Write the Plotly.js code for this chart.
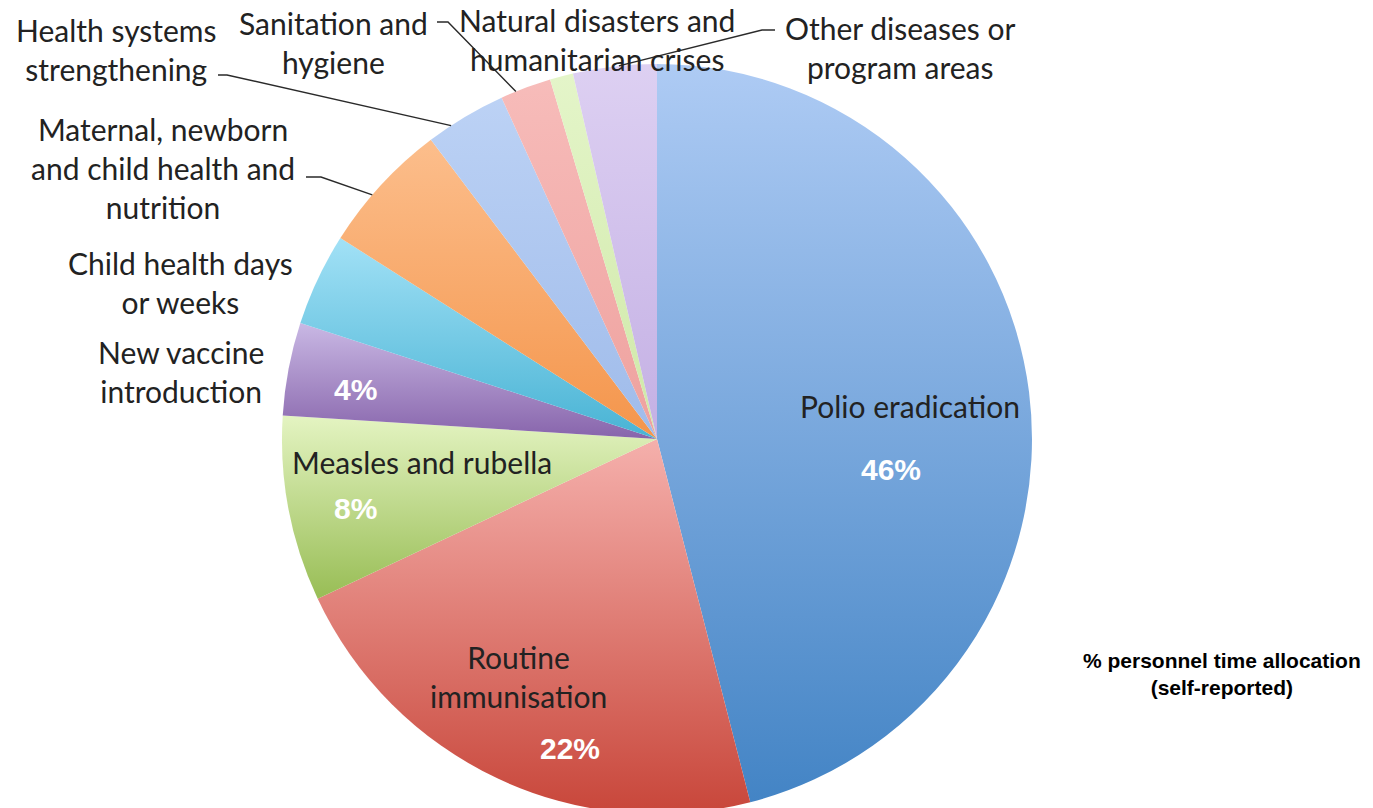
<!DOCTYPE html>
<html>
<head>
<meta charset="utf-8">
<script src="https://cdn.plot.ly/plotly-3.0.1.min.js"></script>
<style>
  html, body { margin: 0; padding: 0; background: #ffffff; overflow: hidden; }
  #chart { width: 1373px; height: 820px; }
</style>
</head>
<body>
<div id="chart"></div>
<script>
// ---- data ----
const categories = [
  'Polio eradication',
  'Routine immunisation',
  'Measles and rubella',
  'New vaccine introduction',
  'Child health days or weeks',
  'Maternal, newborn and child health and nutrition',
  'Health systems strengthening',
  'Sanitation and hygiene',
  'Natural disasters and humanitarian crises',
  'Other diseases or program areas'
];
const values = [46, 22, 8, 4, 4, 5.7, 3.5, 2.2, 1, 3.6];
const percentLabels = ['46%', '22%', '8%', '4%', '', '', '', '', '', ''];
const displayLabels = [
  'Polio eradication',
  'Routine<br>immunisation',
  'Measles and rubella',
  'New vaccine<br>introduction',
  'Child health days<br>or weeks',
  'Maternal, newborn<br>and child health and<br>nutrition',
  'Health systems<br>strengthening',
  'Sanitation and<br>hygiene',
  'Natural disasters and<br>humanitarian crises',
  'Other diseases or<br>program areas'
];
const chartTitle = '% personnel time allocation<br>(self-reported)';

// ---- styles ----
const baseColors = ['#7aa7de', '#e27d74', '#c4dd90', '#a88ac8', '#72c9e6', '#f8ab6c', '#b0c9f0', '#f4b2af', '#dff1c2', '#d5c6ed'];
const gradStops = [
  ['#aecbf4', '#4384c5'],
  ['#f5b0ac', '#c8463a'],
  ['#e4f4c2', '#98bd55'],
  ['#c9b8e4', '#8764ab'],
  ['#a2e1f6', '#48b3d4'],
  ['#fcbe8c', '#f4954b'],
  ['#bcd2f5', '#9fbbea'],
  ['#f7bcba', '#eea19e'],
  ['#e4f5c9', '#cfe8a8'],
  ['#ddd0f2', '#c4b0e4']
];

const W = 1373, H = 820;
const CX = 657, CY = 439, R = 375;

// label positions (px) for name labels
const namePos = [
  [910, 406], [518, 676], [422, 462], [181, 372], [180, 282],
  [163, 168], [117, 49], [333, 42], [597, 39], [900, 47]
];
// percent label positions (px)
const pctPos = [[891, 470], [570, 748], [355, 508], [355, 389]];

// leader lines: label-side anchor points (px) for slices with outside labels
const leaders = {
  6: [[218, 75], [227, 75]],
  5: [[306, 177], [321, 177]],
  7: [[437, 22], [448, 22]],
  9: [[775, 30], [762, 30]]
};

const px = x => x / W;
const py = y => 1 - y / H;

const total = values.reduce((a, b) => a + b, 0);
const cum = [];
values.reduce((acc, v, i) => { cum[i] = acc; return acc + v; }, 0);
function rimPoint(i, frac, rf) {
  const a = (cum[i] + values[i] * frac) / total * 2 * Math.PI;
  return [CX + R * rf * Math.sin(a), CY - R * rf * Math.cos(a)];
}

const annotations = [];
categories.forEach((c, i) => {
  annotations.push({
    x: px(namePos[i][0]), y: py(namePos[i][1]), xref: 'paper', yref: 'paper',
    text: displayLabels[i], showarrow: false, xanchor: 'center', yanchor: 'middle',
    align: 'center',
    font: { family: 'Lato, "Open Sans", sans-serif', size: 30, color: '#222222' }
  });
});
pctPos.forEach((p, i) => {
  annotations.push({
    x: px(p[0]), y: py(p[1]), xref: 'paper', yref: 'paper',
    text: '<b>' + percentLabels[i] + '</b>', showarrow: false,
    xanchor: 'center', yanchor: 'middle',
    font: { family: '"Liberation Sans", Arial, sans-serif', size: 30, color: '#ffffff' }
  });
});
annotations.push({
  x: px(1222), y: py(674), xref: 'paper', yref: 'paper',
  text: '<b>' + chartTitle + '</b>', showarrow: false, xanchor: 'center', yanchor: 'middle',
  align: 'center',
  font: { family: '"Liberation Sans", Arial, sans-serif', size: 21, color: '#000000' }
});

const shapes = [];
const fracs = { 6: 0.3, 5: 0.4, 7: 0.3, 9: 0.55 };
Object.keys(leaders).forEach(k => {
  const i = +k;
  const pts = leaders[k].slice();
  pts.push(rimPoint(i, fracs[i], 1.0));
  const d = pts.map((p, j) => (j ? 'L' : 'M') + px(p[0]).toFixed(5) + ',' + py(p[1]).toFixed(5)).join(' ');
  shapes.push({ type: 'path', xref: 'paper', yref: 'paper', path: d,
    line: { color: '#2a2a2a', width: 1.4 } });
});

const trace = {
  type: 'pie',
  labels: categories,
  values: values,
  sort: false,
  direction: 'clockwise',
  rotation: 0,
  textinfo: 'none',
  hoverinfo: 'skip',
  marker: { colors: baseColors, line: { width: 0 } },
  domain: { x: [(CX - R) / W, (CX + R) / W], y: [(H - CY - R) / H, (H - CY + R) / H] },
  showlegend: false
};

const layout = {
  width: W, height: H,
  margin: { l: 0, r: 0, t: 0, b: 0 },
  paper_bgcolor: '#ffffff',
  showlegend: false,
  annotations: annotations,
  shapes: shapes
};

Plotly.newPlot('chart', [trace], layout, { displayModeBar: false, staticPlot: true }).then(gd => {
  const svg = gd.querySelector('svg.main-svg');
  let defs = svg.querySelector('defs');
  const NS = 'http://www.w3.org/2000/svg';
  const paths = gd.querySelectorAll('g.slice path.surface');
  paths.forEach((p, i) => {
    if (!gradStops[i]) return;
    const g = document.createElementNS(NS, 'linearGradient');
    g.setAttribute('id', 'sliceGrad' + i);
    g.setAttribute('x1', '0'); g.setAttribute('y1', '0');
    g.setAttribute('x2', '0'); g.setAttribute('y2', '1');
    [[0, gradStops[i][0]], [1, gradStops[i][1]]].forEach(s => {
      const st = document.createElementNS(NS, 'stop');
      st.setAttribute('offset', s[0]);
      st.setAttribute('stop-color', s[1]);
      g.appendChild(st);
    });
    defs.appendChild(g);
    p.style.fill = 'url(#sliceGrad' + i + ')';
  });
});
</script>
</body>
</html>
